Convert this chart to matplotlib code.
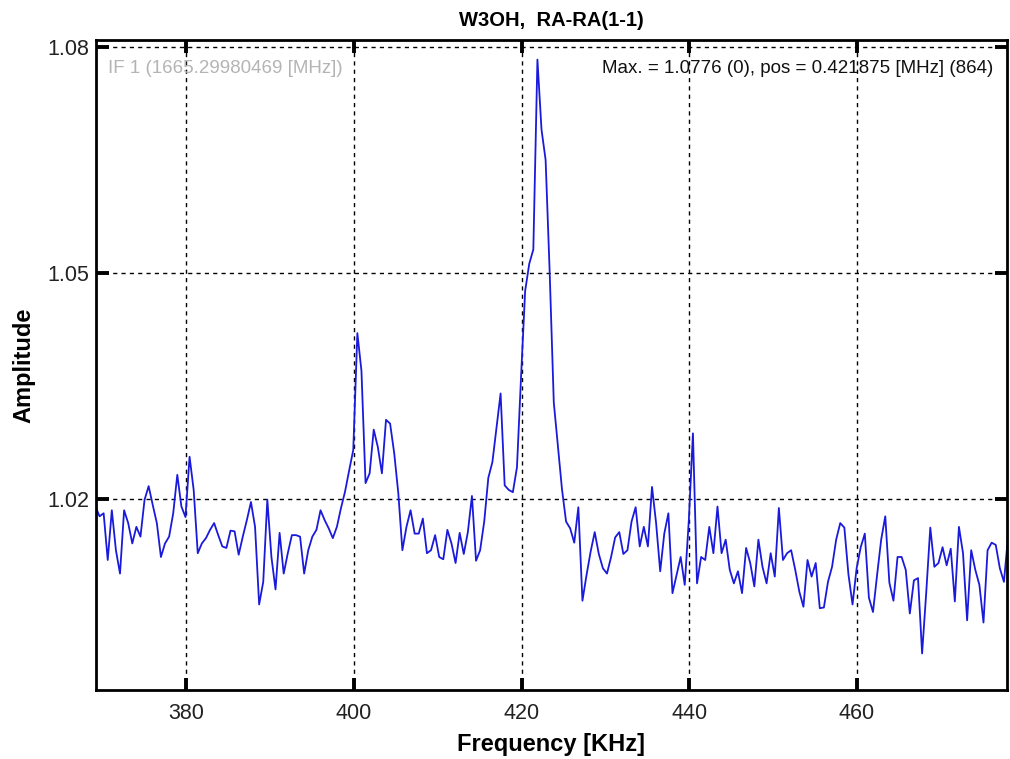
import numpy as np
import matplotlib
matplotlib.use("Agg")
import matplotlib.pyplot as plt

plt.rcParams['font.family'] = ['Liberation Sans', 'DejaVu Sans']

# channel spacing and reference channel (from "pos = 0.421875 [MHz] (864)")
ref_channel = 864
ref_freq_khz = 421.875
chan_width_khz = 1000.0 / 2048.0
first_channel = 756

amplitude = [
    1.0190, 1.0177, 1.0181, 1.0119, 1.0185, 1.0132, 1.0101, 1.0185, 1.0168, 1.0141,
    1.0163, 1.0150, 1.0199, 1.0217, 1.0192, 1.0168, 1.0123, 1.0141, 1.0150, 1.0181,
    1.0232, 1.0190, 1.0176, 1.0256, 1.0212, 1.0128, 1.0141, 1.0148, 1.0159, 1.0168,
    1.0152, 1.0137, 1.0135, 1.0158, 1.0157, 1.0126, 1.0150, 1.0172, 1.0196, 1.0163,
    1.0060, 1.0090, 1.0199, 1.0123, 1.0080, 1.0155, 1.0101, 1.0128, 1.0152, 1.0152,
    1.0150, 1.0101, 1.0132, 1.0150, 1.0159, 1.0185, 1.0172, 1.0161, 1.0148, 1.0163,
    1.0188, 1.0210, 1.0238, 1.0265, 1.0420, 1.0370, 1.0221, 1.0234, 1.0292, 1.0269,
    1.0234, 1.0305, 1.0300, 1.0261, 1.0208, 1.0132, 1.0163, 1.0185, 1.0154, 1.0154,
    1.0174, 1.0128, 1.0132, 1.0152, 1.0123, 1.0120, 1.0159, 1.0141, 1.0115, 1.0155,
    1.0127, 1.0156, 1.0204, 1.0118, 1.0132, 1.0170, 1.0228, 1.0249, 1.0295, 1.0340,
    1.0218, 1.0212, 1.0209, 1.0242, 1.0362, 1.0476, 1.0512, 1.0531, 1.0783, 1.0690,
    1.0650, 1.0500, 1.0328, 1.0271, 1.0213, 1.0170, 1.0161, 1.0142, 1.0189, 1.0065,
    1.0099, 1.0130, 1.0156, 1.0127, 1.0108, 1.0101, 1.0123, 1.0149, 1.0156, 1.0127,
    1.0132, 1.0170, 1.0189, 1.0137, 1.0163, 1.0137, 1.0216, 1.0168, 1.0104, 1.0154,
    1.0181, 1.0075, 1.0099, 1.0123, 1.0086, 1.0172, 1.0287, 1.0088, 1.0123, 1.0119,
    1.0163, 1.0128, 1.0190, 1.0128, 1.0146, 1.0106, 1.0088, 1.0104, 1.0075, 1.0135,
    1.0115, 1.0084, 1.0146, 1.0110, 1.0088, 1.0128, 1.0097, 1.0188, 1.0119, 1.0128,
    1.0132, 1.0106, 1.0077, 1.0057, 1.0119, 1.0097, 1.0115, 1.0055, 1.0056, 1.0090,
    1.0110, 1.0146, 1.0168, 1.0162, 1.0100, 1.0060, 1.0108, 1.0136, 1.0154, 1.0069,
    1.0050, 1.0099, 1.0146, 1.0177, 1.0089, 1.0065, 1.0123, 1.0123, 1.0106, 1.0048,
    1.0092, 1.0095, 0.9995, 1.0075, 1.0162, 1.0110, 1.0115, 1.0136, 1.0112, 1.0134,
    1.0064, 1.0163, 1.0128, 1.0039, 1.0132, 1.0106, 1.0086, 1.0036, 1.0132, 1.0142,
    1.0139, 1.0108, 1.0090, 1.0150,
]

channels = np.arange(first_channel, first_channel + len(amplitude))
frequency = ref_freq_khz + (channels - ref_channel) * chan_width_khz

x_ticks = [380, 400, 420, 440, 460]
y_ticks = [1.02, 1.05, 1.08]
y_tick_labels = ["1.02", "1.05", "1.08"]

fig = plt.figure(figsize=(10.10, 7.59), dpi=100)
ax = fig.add_axes([0.095, 0.0909, 0.902, 0.8564])

ax.plot(frequency, amplitude, color='#1a1adc', linewidth=1.3)

ax.set_xlim(369.2, 477.9)
ax.set_ylim(0.99465, 1.0809)
ax.set_xticks(x_ticks)
ax.set_yticks(y_ticks)
ax.set_yticklabels(y_tick_labels)

ax.grid(True, color='black', linestyle=(0, (3, 3)), linewidth=1.0)
ax.tick_params(direction='in', length=9, width=2.8, top=True, right=True,
               labelsize=15.5, colors='black', labelcolor='#222222')
ax.tick_params(axis='x', pad=9)
ax.tick_params(axis='y', pad=5)
for s in ax.spines.values():
    s.set_linewidth(2.0)
    s.set_color('black')

ax.set_title("W3OH,  RA-RA(1-1)", fontsize=14.5, fontweight='bold', pad=10)
xl = ax.set_xlabel("Frequency [KHz]", fontsize=17, fontweight='bold')
xl.set_va('center')
ax.xaxis.set_label_coords(0.5, -0.084)
yl = ax.set_ylabel("Amplitude", fontsize=17, fontweight='bold')
yl.set_va('center')
ax.yaxis.set_label_coords(-0.079, 0.5)

ax.text(0.013, 0.956, "IF 1 (1665.29980469 [MHz])", transform=ax.transAxes,
        fontsize=13.5, color='#b4b4b4', ha='left', va='center')
ax.text(0.985, 0.956, "Max. = 1.0776 (0), pos = 0.421875 [MHz] (864)",
        transform=ax.transAxes, fontsize=13.5, color='#111111', ha='right', va='center')

fig.savefig("out.png", dpi=100)
